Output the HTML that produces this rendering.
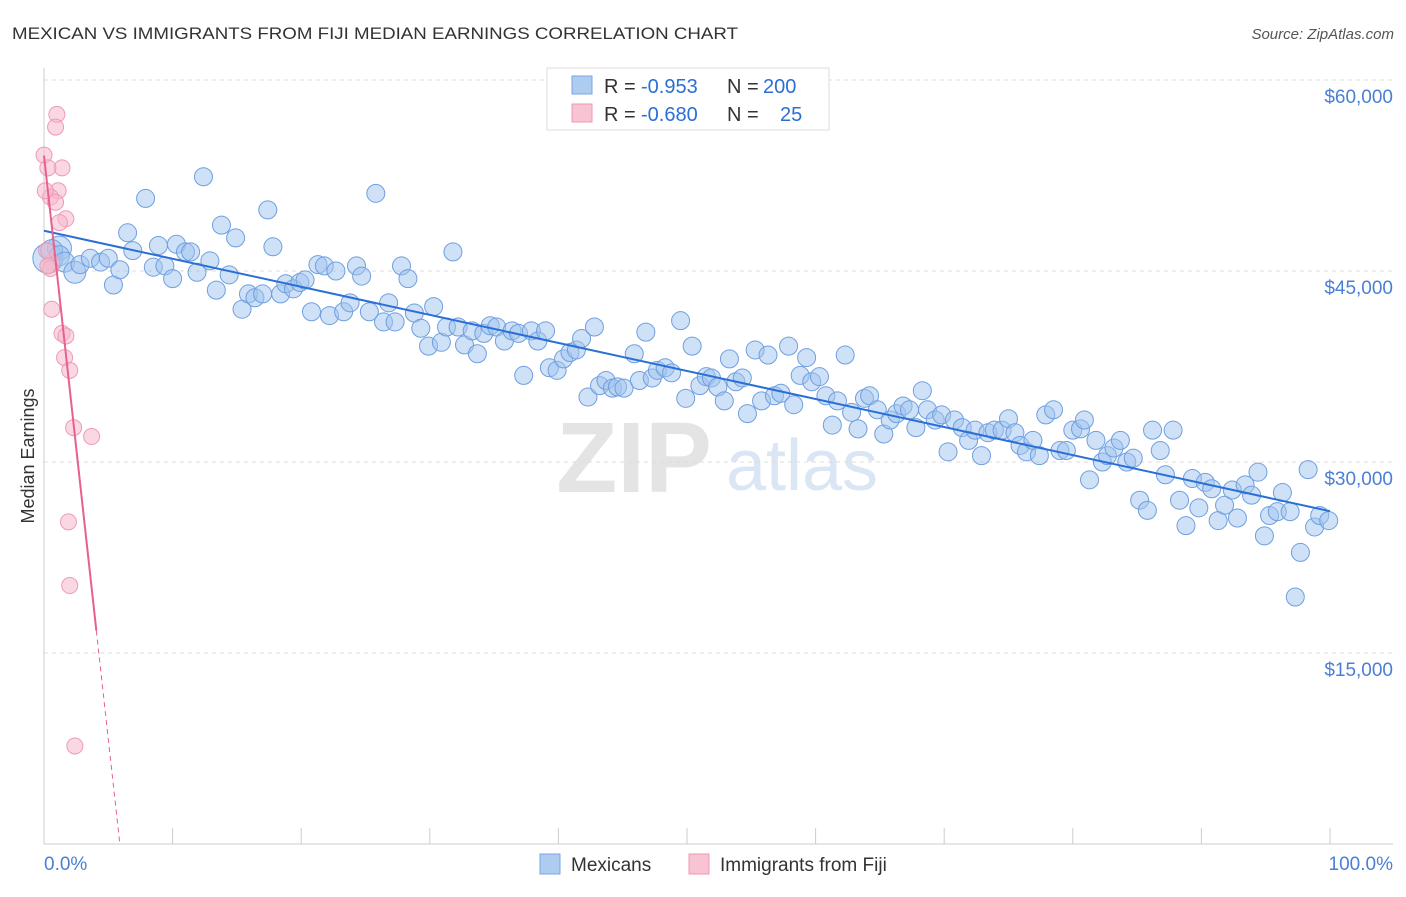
<!DOCTYPE html>
<html><head><meta charset="utf-8">
<style>
body{margin:0;background:#fff;font-family:"Liberation Sans",sans-serif;}
svg text{font-family:"Liberation Sans",sans-serif;}
</style></head>
<body>
<svg id="chart" width="1406" height="892" xmlns="http://www.w3.org/2000/svg">
<text x="12" y="39" font-size="17" fill="#333" textLength="726" lengthAdjust="spacingAndGlyphs">MEXICAN VS IMMIGRANTS FROM FIJI MEDIAN EARNINGS CORRELATION CHART</text>
<text x="1394" y="39" font-size="15" fill="#555" text-anchor="end" font-style="italic">Source: ZipAtlas.com</text>
<text transform="translate(34,456) rotate(-90)" font-size="18" fill="#333" text-anchor="middle">Median Earnings</text>
<g>
<text x="634" y="492" font-size="100" fill="#e4e4e4" text-anchor="middle" font-family="Liberation Serif" font-weight="bold">ZIP</text>
<text x="802" y="490" font-size="72" fill="#dbe6f4" text-anchor="middle">atlas</text>
</g>
<g id="grid"></g>
<g id="axes"></g>
<g id="marks"></g>
<g>
<rect x="547" y="68" width="282" height="62" fill="#fff" stroke="#ddd"/>
<rect x="572" y="76" width="20" height="18" fill="#aecbf0" stroke="#7aa6e3"/>
<rect x="572" y="104" width="20" height="18" fill="#f8c3d2" stroke="#ee9ab3"/>
<text x="604" y="93" font-size="20" fill="#333">R =</text>
<text x="641" y="93" font-size="20" fill="#2a6fd6">-0.953</text>
<text x="727" y="93" font-size="20" fill="#333">N =</text>
<text x="763" y="93" font-size="20" fill="#2a6fd6">200</text>
<text x="604" y="121" font-size="20" fill="#333">R =</text>
<text x="641" y="121" font-size="20" fill="#2a6fd6">-0.680</text>
<text x="727" y="121" font-size="20" fill="#333">N =</text>
<text x="780" y="121" font-size="20" fill="#2a6fd6">25</text>
</g>
<g>
<rect x="540" y="854" width="20" height="20" fill="#aecbf0" stroke="#7aa6e3"/>
<text x="571" y="871" font-size="19" fill="#333">Mexicans</text>
<rect x="689" y="854" width="20" height="20" fill="#f8c3d2" stroke="#ee9ab3"/>
<text x="720" y="871" font-size="19" fill="#333">Immigrants from Fiji</text>
</g>
</svg>
<script>
const yTicks=[15000,30000,45000,60000];
const yTickLabels=["$15,000","$30,000","$45,000","$60,000"];
const xTickLabels=["0.0%","100.0%"];
const mexX=[0.3,1.2,0.6,1.2,1.6,2.4,2.8,3.6,4.4,5.0,5.4,5.9,6.5,6.9,7.9,8.5,8.9,9.4,10.0,10.3,11.0,11.4,11.9,12.4,12.9,13.4,13.8,14.4,14.9,15.4,15.9,16.4,17.0,17.4,17.8,18.4,18.8,19.4,19.9,20.3,20.8,21.3,21.8,22.2,22.7,23.3,23.8,24.3,24.7,25.3,25.8,26.4,26.8,27.3,27.8,28.3,28.8,29.3,29.9,30.3,30.9,31.3,31.8,32.2,32.7,33.3,33.7,34.2,34.7,35.2,35.8,36.4,36.9,37.3,37.9,38.4,39.0,39.3,39.9,40.4,40.9,41.4,41.8,42.3,42.8,43.2,43.7,44.2,44.6,45.1,45.9,46.3,46.8,47.3,47.7,48.3,48.8,49.5,49.9,50.4,51.0,51.5,51.9,52.4,52.9,53.3,53.8,54.3,54.7,55.3,55.8,56.3,56.8,57.3,57.9,58.3,58.8,59.3,59.7,60.3,60.8,61.3,61.7,62.3,62.8,63.3,63.8,64.2,64.8,65.3,65.8,66.3,66.8,67.3,67.8,68.3,68.7,69.3,69.8,70.3,70.8,71.4,71.9,72.4,72.9,73.4,73.9,74.5,75.0,75.5,75.9,76.4,76.9,77.4,77.9,78.5,79.0,79.5,80.0,80.6,80.9,81.3,81.8,82.3,82.7,83.2,83.7,84.2,84.7,85.2,85.8,86.2,86.8,87.2,87.8,88.3,88.8,89.3,89.8,90.3,90.8,91.3,91.8,92.4,92.8,93.4,93.9,94.4,94.9,95.3,95.9,96.3,96.9,97.3,97.7,98.3,98.8,99.2,99.9];
const mexY=[46000,46800,46600,46200,45700,44900,45500,46000,45700,46000,43900,45100,48000,46600,50700,45300,47000,45400,44400,47100,46500,46500,44900,52400,45800,43500,48600,44700,47600,42000,43200,42900,43200,49800,46900,43200,44000,43600,44100,44300,41800,45500,45400,41500,45000,41800,42500,45400,44600,41800,51100,41000,42500,41000,45400,44400,41700,40500,39100,42200,39400,40600,46500,40600,39200,40300,38500,40100,40700,40600,39500,40300,40100,36800,40300,39500,40300,37400,37200,38100,38600,38800,39700,35100,40600,36000,36400,35800,35900,35800,38500,36400,40200,36600,37200,37400,37000,41100,35000,39100,36000,36700,36600,35900,34800,38100,36300,36600,33800,38800,34800,38400,35200,35400,39100,34500,36800,38200,36300,36700,35200,32900,34800,38400,33900,32600,35000,35200,34100,32200,33300,33800,34400,34100,32700,35600,34100,33300,33700,30800,33300,32700,31700,32500,30500,32300,32500,32500,33400,32300,31300,30800,31700,30500,33700,34100,30900,30900,32500,32600,33300,28600,31700,30000,30500,31100,31700,30000,30300,27000,26200,32500,30900,29000,32500,27000,25000,28700,26400,28400,27900,25400,26600,27800,25600,28200,27400,29200,24200,25800,26100,27600,26100,19400,22900,29400,24900,25800,25400];
const mexSize=[15,12,11,10,10,11];
const fijiX=[1.0,0.9,0.0,1.4,0.3,1.1,0.5,0.9,1.7,1.2,0.6,0.5,0.6,1.4,1.7,1.6,2.0,2.3,3.7,1.9,2.0,2.4,0.1,0.2,0.3];
const fijiY=[57300,56300,54100,53100,53100,51300,50800,50400,49100,48800,45700,45200,42000,40100,39900,38200,37200,32700,32000,25300,20300,7700,51300,46600,45400];

const X0=44,X1=1330,YB=844,YPER=191/15000;
const sx=p=>X0+(X1-X0)*p/100;
const sy=v=>YB-v*YPER;
const NS="http://www.w3.org/2000/svg";
function mk(tag,attrs,parent){const e=document.createElementNS(NS,tag);for(const k in attrs)e.setAttribute(k,attrs[k]);parent.appendChild(e);return e;}
const grid=document.getElementById('grid'),axes=document.getElementById('axes'),marks=document.getElementById('marks');
yTicks.forEach((t,i)=>{
  const l=mk('line',{x1:X0,x2:1393,y1:sy(t),y2:sy(t),stroke:'#dcdcdc','stroke-dasharray':'4,4'},grid);
  
  
  const tx=mk('text',{x:1393,y:sy(t)+23,'font-size':19,fill:'#4a7fd4','text-anchor':'end'},axes);
  tx.textContent=yTickLabels[i];
  
  
});
let l=mk('line',{x1:X0,x2:X0,y1:68,y2:YB,stroke:'#ccc'},axes);


l=mk('line',{x1:X0,x2:1393,y1:YB,y2:YB,stroke:'#ccc'},axes);


for(let i=0;i<=10;i++){const t=mk('line',{x1:sx(i*10),x2:sx(i*10),y1:828,y2:YB,stroke:'#ccc'},axes);
  
  }
let t0=mk('text',{x:44,y:870,'font-size':19,fill:'#4a7fd4'},axes);t0.textContent=xTickLabels[0];


let t1=mk('text',{x:1393,y:870,'font-size':19,fill:'#4a7fd4','text-anchor':'end'},axes);t1.textContent=xTickLabels[1];



function reg(xs,ys){const n=xs.length;let mx=0,my=0;for(let i=0;i<n;i++){mx+=xs[i];my+=ys[i];}mx/=n;my/=n;let sxy=0,sxx=0;for(let i=0;i<n;i++){sxy+=(xs[i]-mx)*(ys[i]-my);sxx+=(xs[i]-mx)**2;}const b=sxy/sxx;return[my-b*mx,b];}
mexX.forEach((x,i)=>{const c=mk('circle',{cx:sx(x),cy:sy(mexY[i]),r:mexSize[i]||9,fill:'rgba(160,195,238,0.5)',stroke:'#6f9fe0','stroke-width':1},marks);
  
  });
fijiX.forEach((x,i)=>{const c=mk('circle',{cx:sx(x),cy:sy(fijiY[i]),r:8,fill:'rgba(246,184,204,0.55)',stroke:'#ee9ab3','stroke-width':1},marks);
  
  });
const [ma,mb]=reg(mexX,mexY);
l=mk('line',{x1:sx(0),y1:sy(ma),x2:sx(100),y2:sy(ma+mb*100),stroke:'#2a6fd6','stroke-width':2},marks);


const [fa,fb]=reg(fijiX,fijiY);
const xe=Math.max(...fijiX)*1.1;
l=mk('line',{x1:sx(0),y1:sy(fa),x2:sx(xe),y2:sy(fa+fb*xe),stroke:'#e8608c','stroke-width':2},marks);


const xz=-fa/fb;
l=mk('line',{x1:sx(xe),y1:sy(fa+fb*xe),x2:sx(xz),y2:sy(0),stroke:'#e8608c','stroke-width':1,'stroke-dasharray':'5,4'},marks);


</script>
</body></html>
